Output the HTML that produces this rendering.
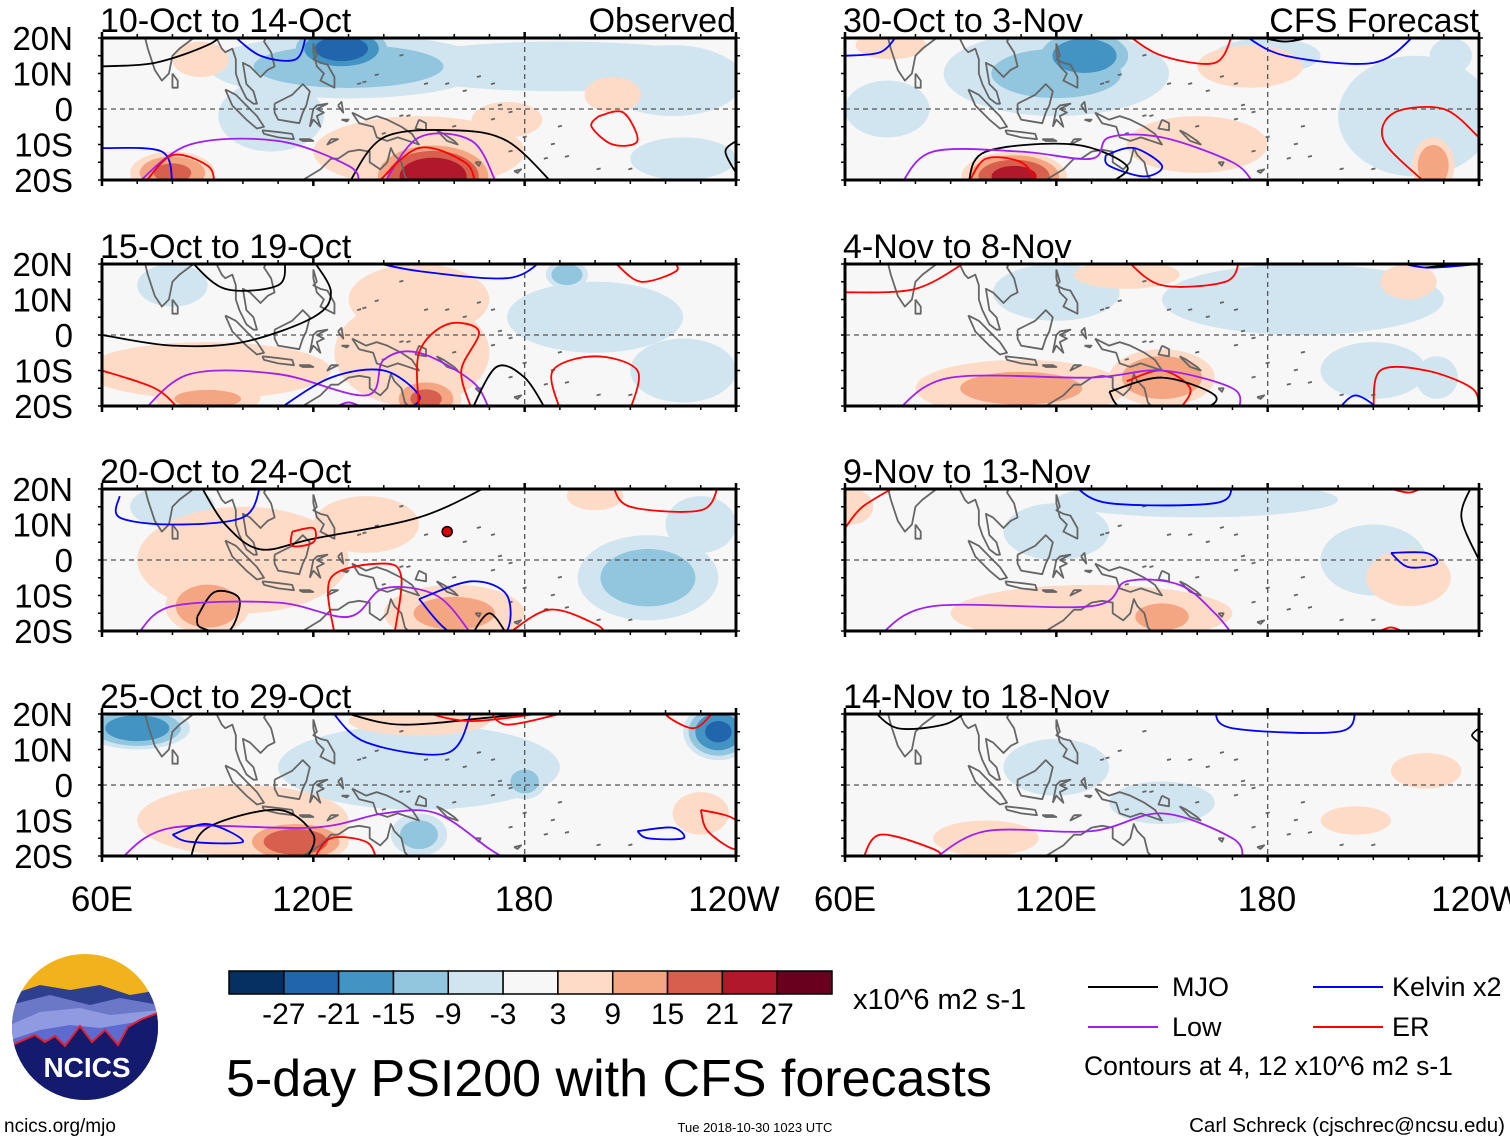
<!DOCTYPE html>
<html><head><meta charset="utf-8">
<style>
html,body{margin:0;padding:0;background:#fff;width:1510px;height:1142px;overflow:hidden}
svg{display:block}
text{font-family:"Liberation Sans",Arial,sans-serif;fill:#000}
</style></head>
<body>
<svg id="fig" width="1510" height="1142" viewBox="0 0 1510 1142" xmlns="http://www.w3.org/2000/svg">
<defs>
<clipPath id="logoclip"><circle cx="85" cy="1027" r="73"/></clipPath>
</defs>
<g id="panels"></g>

<g font-size="35" text-anchor="middle">
<text x="102" y="911">60E</text>
<text x="313" y="911">120E</text>
<text x="524" y="911">180</text>
<text x="734" y="911">120W</text>
<text x="845" y="911">60E</text>
<text x="1056" y="911">120E</text>
<text x="1267" y="911">180</text>
<text x="1477" y="911">120W</text>
</g>

<g clip-path="url(#logoclip)">
<rect x="0" y="950" width="170" height="160" fill="#f2b21c"/>
<path d="M10,995 L40,985 L70,990 L100,985 L130,995 L160,990 L160,1110 L10,1110Z" fill="#2f3f8f"/>
<path d="M10,1005 L50,995 L90,1005 L120,998 L160,1005 L160,1110 L10,1110Z" fill="#6b78c8"/>
<path d="M10,1025 L40,1012 L80,1008 L110,1015 L160,1010 L160,1110 L10,1110Z" fill="#8f9ae0"/>
<path d="M10,1040 L40,1030 L70,1025 L100,1028 L160,1018 L160,1110 L10,1110Z" fill="#5d6ad0"/>
<path d="M10,1046 L35,1035 L45,1042 L55,1036 L65,1046 L80,1026 L92,1042 L105,1030 L118,1045 L128,1027 L140,1020 L160,1012 L160,1110 L10,1110Z" fill="#141a6e" stroke="#e0202a" stroke-width="2"/>
</g>
<text x="87" y="1077" font-size="28" font-weight="bold" text-anchor="middle" style="fill:#fff">NCICS</text>

<g id="cbar"></g>
<text x="853" y="1009" font-size="29">x10^6 m2 s-1</text>
<text x="226" y="1096" font-size="52">5-day PSI200 with CFS forecasts</text>

<g font-size="27">
<g><line x1="1088" y1="987" x2="1158" y2="987" stroke="#000" stroke-width="2"/><text x="1172" y="996">MJO</text></g>
<g><line x1="1088" y1="1027" x2="1158" y2="1027" stroke="#a020f0" stroke-width="2"/><text x="1172" y="1036">Low</text></g>
<g><line x1="1313" y1="987" x2="1383" y2="987" stroke="#0000ff" stroke-width="2"/><text x="1392" y="996">Kelvin x2</text></g>
<g><line x1="1313" y1="1027" x2="1383" y2="1027" stroke="#ff0000" stroke-width="2"/><text x="1392" y="1036">ER</text></g>
<text x="1084" y="1075" font-size="26.5">Contours at 4, 12 x10^6 m2 s-1</text>
</g>

<text x="4" y="1132" font-size="19">ncics.org/mjo</text>
<text x="755" y="1132" font-size="13" text-anchor="middle">Tue 2018-10-30 1023 UTC</text>
<text x="1505" y="1132" font-size="20.5" text-anchor="end">Carl Schreck (cjschrec@ncsu.edu)</text>
</svg>

<script>
const NS = "http://www.w3.org/2000/svg";
const levelBounds = [-27,-21,-15,-9,-3,3,9,15,21,27];
const levelColors = ["#053061","#2166ac","#4393c3","#92c5de","#d1e5f0","#f7f7f7","#fddbc7","#f4a582","#d6604d","#b2182b","#67001f"];
const cbarLabels = ["-27","-21","-15","-9","-3","3","9","15","21","27"];

const panelTitles = ["10-Oct to 14-Oct","30-Oct to 3-Nov","15-Oct to 19-Oct","4-Nov to 8-Nov","20-Oct to 24-Oct","9-Nov to 13-Nov","25-Oct to 29-Oct","14-Nov to 18-Nov"];
const panelTags = ["Observed","CFS Forecast","","","","","",""];
const latLabels = ["20N","10N","0","10S","20S"];
const latValues = [20,10,0,-10,-20];

// anomaly blobs: [lon, lat, lonRadius, latRadius, value]
const blobs0 = [[130,12,40,9,-12],[128,17,15,7,-25],[108,-2,15,10,-8],[190,12,50,7,-5],[222,8,20,10,-5],[225,-14,15,6,-4],[150,-12,30,10,7],[154,-19,18,10,26],[80,-18,12,6,16],[175,-3,10,5,5],[205,4,8,5,5],[88,14,8,5,5]];
const blobs1 = [[120,10,32,12,-10],[128,15,15,8,-20],[72,0,12,8,-5],[222,-2,22,17,-6],[180,15,15,5,-4],[232,15,6,5,-9],[108,-19,15,7,23],[160,-10,20,8,7],[227,-16,6,8,14],[175,12,15,6,6],[73,18,10,4,5]];
const blobs2 = [[90,-10,35,8,6],[148,-5,22,15,8],[152,-18,10,6,16],[90,-18,15,4,11],[192,17,6,4,-14],[200,5,25,10,-7],[225,-10,15,9,-8],[80,14,10,6,-4],[150,10,20,10,4]];
const blobs3 = [[120,12,18,8,-9],[190,10,40,10,-5],[210,-10,15,8,-7],[110,-15,30,8,10],[150,-12,15,8,15],[220,15,8,5,5],[228,-12,6,6,-8],[140,17,15,4,5]];
const blobs4 = [[90,-13,12,8,15],[100,0,30,15,6],[135,10,15,8,5],[160,-15,20,8,10],[80,15,12,6,-6],[215,-5,20,12,-12],[230,10,10,8,-5],[200,18,8,4,5]];
const blobs5 = [[160,17,40,5,-9],[120,8,15,8,-6],[210,0,15,10,-7],[130,-15,40,8,7],[150,-16,12,6,11],[62,15,6,5,6],[220,-5,12,8,5]];
const blobs6 = [[70,16,15,6,-20],[235,15,10,8,-22],[150,5,40,12,-6],[180,1,6,5,-12],[150,-14,8,6,-12],[115,-16,15,6,20],[100,-10,30,10,6],[150,18,20,4,9],[230,-8,8,6,6]];
const blobs7 = [[120,5,15,8,-4],[225,4,10,5,5],[150,-5,15,6,-4],[100,-15,15,5,5],[175,12,12,4,-3],[205,-10,10,4,4]];
const panelBlobs = [blobs0,blobs1,blobs2,blobs3,blobs4,blobs5,blobs6,blobs7];

const lines0 = [["mjo",[[60,12],[75,13],[90,18],[95,22]]],["mjo",[[130,-21],[140,-8],[160,-6],[175,-9],[188,-21]]],["low",[[70,-21],[85,-10],[110,-9],[130,-16],[133,-21]]],["low",[[140,-21],[150,-8],[165,-9],[172,-21]]],["kelvin",[[60,-11],[77,-12],[80,-21]]],["kelvin",[[97,21],[105,15],[115,14],[118,21]]],["er",[[72,-21],[80,-13],[90,-16],[92,-21]]],["er",[[138,-21],[150,-11],[163,-15],[166,-21]]],["er",[[201,-2],[208,-1],[212,-9],[205,-10],[199,-5],[201,-2]]],["mjo",[[240,-18],[237,-12],[240,-9]]]];
const lines1 = [["kelvin",[[60,15],[70,16],[75,21]]],["kelvin",[[173,21],[185,15],[210,13],[222,21]]],["kelvin",[[134,-13],[142,-11],[150,-16],[145,-19],[135,-16],[134,-13]]],["mjo",[[95,-21],[100,-12],[125,-10],[140,-16],[135,-21]]],["low",[[76,-21],[85,-12],[110,-12],[130,-14],[135,-8],[150,-8],[170,-15],[176,-21]]],["er",[[88,21],[95,20],[92,21]]],["er",[[140,21],[150,15],[165,13],[170,21]]],["er",[[95,-21],[100,-14],[110,-15],[115,-21]]],["er",[[225,-21],[213,-9],[216,-1],[230,0],[240,-8]]],["mjo",[[175,21],[185,19],[195,21]]]];
const lines2 = [["mjo",[[85,21],[95,13],[110,14],[112,21]]],["mjo",[[60,0],[80,-3],[100,-2],[120,5],[125,12],[120,21]]],["low",[[72,-21],[85,-11],[110,-11],[135,-17],[140,-7],[150,-5],[165,-13],[170,-21]]],["low",[[125,-21],[130,-19],[135,-21]]],["kelvin",[[110,-21],[125,-12],[140,-10],[150,-17],[147,-21]]],["kelvin",[[135,21],[150,18],[175,16],[185,21]]],["er",[[60,-10],[75,-15],[82,-21]]],["er",[[150,-21],[150,-5],[158,3],[167,1],[162,-10],[165,-21]]],["er",[[190,-21],[188,-10],[200,-6],[212,-10],[210,-21]]],["er",[[206,20],[213,15],[223,18],[222,21]]],["mjo",[[165,-21],[172,-9],[180,-12],[186,-21]]]];
const lines3 = [["er",[[60,12],[80,13],[95,21]]],["er",[[140,21],[150,14],[168,15],[172,21]]],["er",[[140,-13],[150,-10],[158,-15],[155,-21]]],["er",[[210,-21],[212,-10],[225,-10],[238,-15],[240,-21]]],["mjo",[[135,-16],[150,-12],[165,-17],[160,-21],[140,-21],[135,-16]]],["low",[[75,-21],[90,-12],[130,-12],[150,-10],[170,-15],[172,-21]]],["kelvin",[[215,21],[225,19],[240,20]]],["kelvin",[[200,-21],[205,-17],[212,-21]]],["mjo",[[225,19],[235,20],[240,20]]]];
const lines4 = [["kelvin",[[65,18],[65,12],[80,10],[100,12],[105,21]]],["mjo",[[88,21],[95,10],[105,3],[120,6],[150,12],[170,21]]],["er",[[114,8],[120,9],[120,5],[114,4],[114,8]]],["er",[[126,-21],[125,-5],[140,-1],[145,-5],[143,-21]]],["mjo",[[87,-16],[92,-9],[99,-11],[96,-20],[88,-19],[87,-16]]],["low",[[70,-21],[80,-13],[110,-12],[130,-16],[140,-8],[155,-10],[165,-21]]],["kelvin",[[150,-11],[165,-6],[175,-10],[174,-21],[160,-21],[150,-11]]],["er",[[175,-21],[187,-14],[200,-18],[203,-21]]],["er",[[205,21],[210,15],[230,14],[235,21]]],["mjo",[[165,-21],[170,-15],[175,-21]]]];
const lines5 = [["kelvin",[[125,21],[135,16],[165,16],[170,21]]],["kelvin",[[215,2],[225,2],[228,-1],[220,-2],[215,2]]],["er",[[60,9],[65,15],[75,21]]],["mjo",[[238,21],[235,12],[240,0]]],["low",[[70,-21],[85,-13],[130,-13],[140,-6],[155,-7],[165,-15],[170,-21]]],["er",[[210,-21],[215,-19],[220,-21]]],["er",[[212,21],[220,19],[225,21]]]];
const lines6 = [["kelvin",[[125,21],[135,12],[158,9],[165,21]]],["mjo",[[130,20],[145,17],[170,19],[190,21]]],["er",[[150,21],[165,18],[190,21]]],["er",[[170,21],[175,17],[190,20]]],["er",[[226,21],[220,20],[228,16],[234,21]]],["mjo",[[85,-21],[90,-12],[110,-7],[120,-14],[118,-21]]],["low",[[65,-21],[80,-12],[120,-12],[140,-8],[155,-8],[170,-18],[175,-21]]],["kelvin",[[80,-14],[90,-11],[100,-16],[85,-16],[80,-14]]],["er",[[120,-21],[125,-15],[135,-16],[138,-21]]],["er",[[230,-7],[240,-10],[240,-18],[232,-13],[230,-7]]],["kelvin",[[212,-13],[222,-12],[225,-15],[215,-15],[212,-13]]]];
const lines7 = [["mjo",[[68,21],[75,16],[88,17],[95,21]]],["kelvin",[[165,21],[170,16],[200,15],[205,21]]],["er",[[65,-21],[70,-14],[85,-18],[88,-21]]],["low",[[85,-21],[100,-13],[130,-13],[150,-8],[170,-15],[173,-21]]],["mjo",[[240,12],[238,14],[240,16]]]];
const panelLines = [lines0,lines1,lines2,lines3,lines4,lines5,lines6,lines7];

const lineColors = {mjo:"#000000",low:"#a020f0",kelvin:"#0000ff",er:"#ff0000"};

const coasts = [
 [[66,25],[68,23],[72,21],[73,17],[75,11],[77,8],[79,10],[80,15],[82,17],[86,20],[88,22],[91,23],[92,21],[94,17],[95,16],[97,17],[98,14],[98,10],[99,7],[101,3],[103,1.5],[104,1.5],[103,5],[101,7],[100,13],[102,12],[105,9],[107,11],[109,12],[108,16],[106,19],[107,21],[110,21],[113,22],[117,23],[120,25]],
 [[80,10],[81.5,8],[81.5,6],[80,6],[80,10]],
 [[95,5.5],[98,4],[101,1],[104,-2],[106,-5],[104,-5.5],[101,-3],[97,1],[95,5.5]],
 [[105.5,-6],[110,-6.5],[114,-7],[114.5,-8.5],[110,-8],[106,-7],[105.5,-6]],
 [[109,1.5],[111,2.5],[114,4],[116,6],[117,7],[119,5],[118,1],[117,-1],[116,-4],[113,-3.5],[110,-3],[109,-1],[109,1.5]],
 [[119,-5],[120,0],[121,1],[124,1.5],[121,0],[123,-1],[121,-2],[122,-5],[120,-3],[119,-5]],
 [[120,18.5],[121,15],[120,14],[122,13],[124,12.5],[126,9],[126,6],[124,7],[122,8],[123,10],[121,12],[120,16],[120,18.5]],
 [[120,25],[121.5,25],[121,22],[120,23],[120,25]],
 [[131,-1],[135,-3],[138,-2],[141,-3],[145,-5],[148,-7],[150,-10],[147,-9],[144,-8],[141,-9],[138,-8],[137,-5],[133,-4],[131,-1]],
 [[112,-22],[114,-21],[117,-20],[122,-17],[125,-14],[127,-14],[130,-12],[133,-11.5],[136,-12],[136,-15],[139,-17],[141,-15],[142,-11],[143,-13],[145,-15],[146,-19],[149,-22]],
 [[125,-8.5],[127,-8.5],[124,-10],[125,-8.5]],
 [[116,-8.5],[119,-8.5],[120,-9],[117,-9],[116,-8.5]],
 [[127,1],[128,2],[128.5,-1],[127,1]],
 [[128,-3],[130,-3],[129.5,-3.5],[128,-3]],
 [[150,-3],[152,-4],[152,-6],[149,-5.5],[150,-3]],
 [[155,-6],[157,-7],[160,-9],[161,-10],[158,-9],[155,-6]],
 [[166,-15],[167,-16],[167.5,-15],[166,-15]],
 [[164,-20.5],[166,-21],[165,-20],[164,-20.5]],
 [[177,-17.5],[179,-17],[178,-18],[177,-17.5]]
];
const islets = [[133,7],[134.5,7.5],[138,9.5],[145,15],[152,7],[158,7],[163,5],[167,9],[171,7],[173,1],[176,-1],[180,-8],[186,-14],[192,-13.5],[201,-17],[210,-17],[176,-12],[140,-7],[145,-2],[147,-2],[160,-5],[171,-3],[190,-5],[188,-10]];

const panelGeom = [];
const rowsTop = [38,264,489,714];
const colsLeft = [102,845];
const PW = 634, PH = 142;
for (let r=0;r<4;r++) for (let c=0;c<2;c++) panelGeom.push({x:colsLeft[c], y:rowsTop[r]});

function el(tag, attrs, parent){ const e=document.createElementNS(NS,tag); for(const k in attrs) e.setAttribute(k,attrs[k]); if(parent) parent.appendChild(e); return e; }

const root = document.getElementById('panels');
const defs = el('defs',{},root);

panelGeom.forEach((g,pi)=>{
  const xs = lon => g.x + (lon-60)*PW/180;
  const ys = lat => g.y + (20-lat)*PH/40;
  const cp = el('clipPath',{id:'pc'+pi},defs);
  el('rect',{x:g.x,y:g.y,width:PW,height:PH},cp);

  const grp = el('g',{},root);
  
  

  const inner = el('g',{'clip-path':'url(#pc'+pi+')'},grp);
  const bg = el('rect',{x:g.x,y:g.y,width:PW,height:PH,fill:levelColors[5]},inner);
  
  

  const shade = el('g',{},inner);
  
  
  const thr = [3,9,15,21,27];
  [-1,1].forEach(sign=>{
    thr.forEach((t,ti)=>{
      panelBlobs[pi].forEach(b=>{
        const v=b[4];
        if (Math.sign(v)!==sign || Math.abs(v)<=t) return;
        const s=Math.sqrt(1-(t-3)/(Math.abs(v)-1));
        const col = sign>0 ? levelColors[6+ti] : levelColors[4-ti];
        const e = el('ellipse',{cx:xs(b[0]),cy:ys(b[1]),rx:b[2]*s*PW/180,ry:b[3]*s*PH/40,fill:col},shade);
        
        
      });
    });
  });

  const cg = el('g',{fill:'none',stroke:'#666',"stroke-width":1.8,"stroke-linejoin":"round"},inner);
  
  
  coasts.forEach(c=>{
    el('polyline',{points:c.map(p=>xs(p[0])+','+ys(p[1])).join(' ')},cg);
  });
  islets.forEach(p=>{
    el('line',{x1:xs(p[0])-2,y1:ys(p[1]),x2:xs(p[0])+2,y2:ys(p[1])-1},cg);
  });

  el('line',{x1:g.x,y1:ys(0),x2:g.x+PW,y2:ys(0),stroke:'#555','stroke-width':1.3,'stroke-dasharray':'5,4'},inner);
  el('line',{x1:xs(180),y1:g.y,x2:xs(180),y2:g.y+PH,stroke:'#555','stroke-width':1.3,'stroke-dasharray':'5,4'},inner);

  panelLines[pi].forEach(L=>{
    const pts=L[1].map(p=>[xs(p[0]),ys(p[1])]);
    let d='M'+pts[0][0]+','+pts[0][1];
    for(let i=0;i<pts.length-1;i++){
      const p0=pts[Math.max(0,i-1)],p1=pts[i],p2=pts[i+1],p3=pts[Math.min(pts.length-1,i+2)];
      const c1=[p1[0]+(p2[0]-p0[0])/6,p1[1]+(p2[1]-p0[1])/6];
      const c2=[p2[0]-(p3[0]-p1[0])/6,p2[1]-(p3[1]-p1[1])/6];
      d+=' C'+c1[0]+','+c1[1]+' '+c2[0]+','+c2[1]+' '+p2[0]+','+p2[1];
    }
    const pth=el('path',{d:d,fill:'none',stroke:lineColors[L[0]],'stroke-width':1.8},inner);
    
    
  });

  const fr=el('rect',{x:g.x,y:g.y,width:PW,height:PH,fill:'none',stroke:'#000','stroke-width':3},grp);
  
  
  for(let lon=60;lon<=240;lon+=10){
    const big = (lon%60===0);
    const L=big?6:4;
    el('line',{x1:xs(lon),y1:g.y-L,x2:xs(lon),y2:g.y,stroke:'#000','stroke-width':big?2.5:1.5},grp);
    el('line',{x1:xs(lon),y1:g.y+PH,x2:xs(lon),y2:g.y+PH+L,stroke:'#000','stroke-width':big?2.5:1.5},grp);
  }
  for(let lat=-20;lat<=20;lat+=5){
    el('line',{x1:g.x-4,y1:ys(lat),x2:g.x,y2:ys(lat),stroke:'#000','stroke-width':1.5},grp);
    el('line',{x1:g.x+PW,y1:ys(lat),x2:g.x+PW+4,y2:ys(lat),stroke:'#000','stroke-width':1.5},grp);
  }
  if(pi%2===0){
    latLabels.forEach((lab,i)=>{
      const t=el('text',{x:73,y:ys(latValues[i])+12,'font-size':33,'text-anchor':'end'},grp);
      t.textContent=lab;
      
      
    });
  }
  const tt=el('text',{x:g.x-2,y:g.y-6,'font-size':34},grp);
  tt.textContent=panelTitles[pi];
  
  
  if(panelTags[pi]){
    const tg=el('text',{x:g.x+PW,y:g.y-6,'font-size':34,'text-anchor':'end'},grp);
    tg.textContent=panelTags[pi];
    
    
  }
});

(function(){
  const g=panelGeom[4];
  const cx=g.x+(158-60)*PW/180, cy=g.y+(20-8)*PH/40;
  const m=el('circle',{cx:cx,cy:cy,r:5,fill:'#d00',stroke:'#000','stroke-width':1.5},root);
  
  
})();

(function(){
  const cb=document.getElementById('cbar');
  const x0=229,x1=832,y=971,h=23,w=(x1-x0)/levelColors.length;
  levelColors.forEach((c,i)=>{
    const r=el('rect',{x:x0+i*w,y:y,width:w,height:h,fill:c,stroke:'#000','stroke-width':1.5},cb);
    
    
  });
  cbarLabels.forEach((lab,i)=>{
    const t=el('text',{x:x0+(i+1)*w,y:1024,'font-size':30,'text-anchor':'middle'},cb);
    t.textContent=lab;
    
    
  });
})();
</script>
</body></html>
